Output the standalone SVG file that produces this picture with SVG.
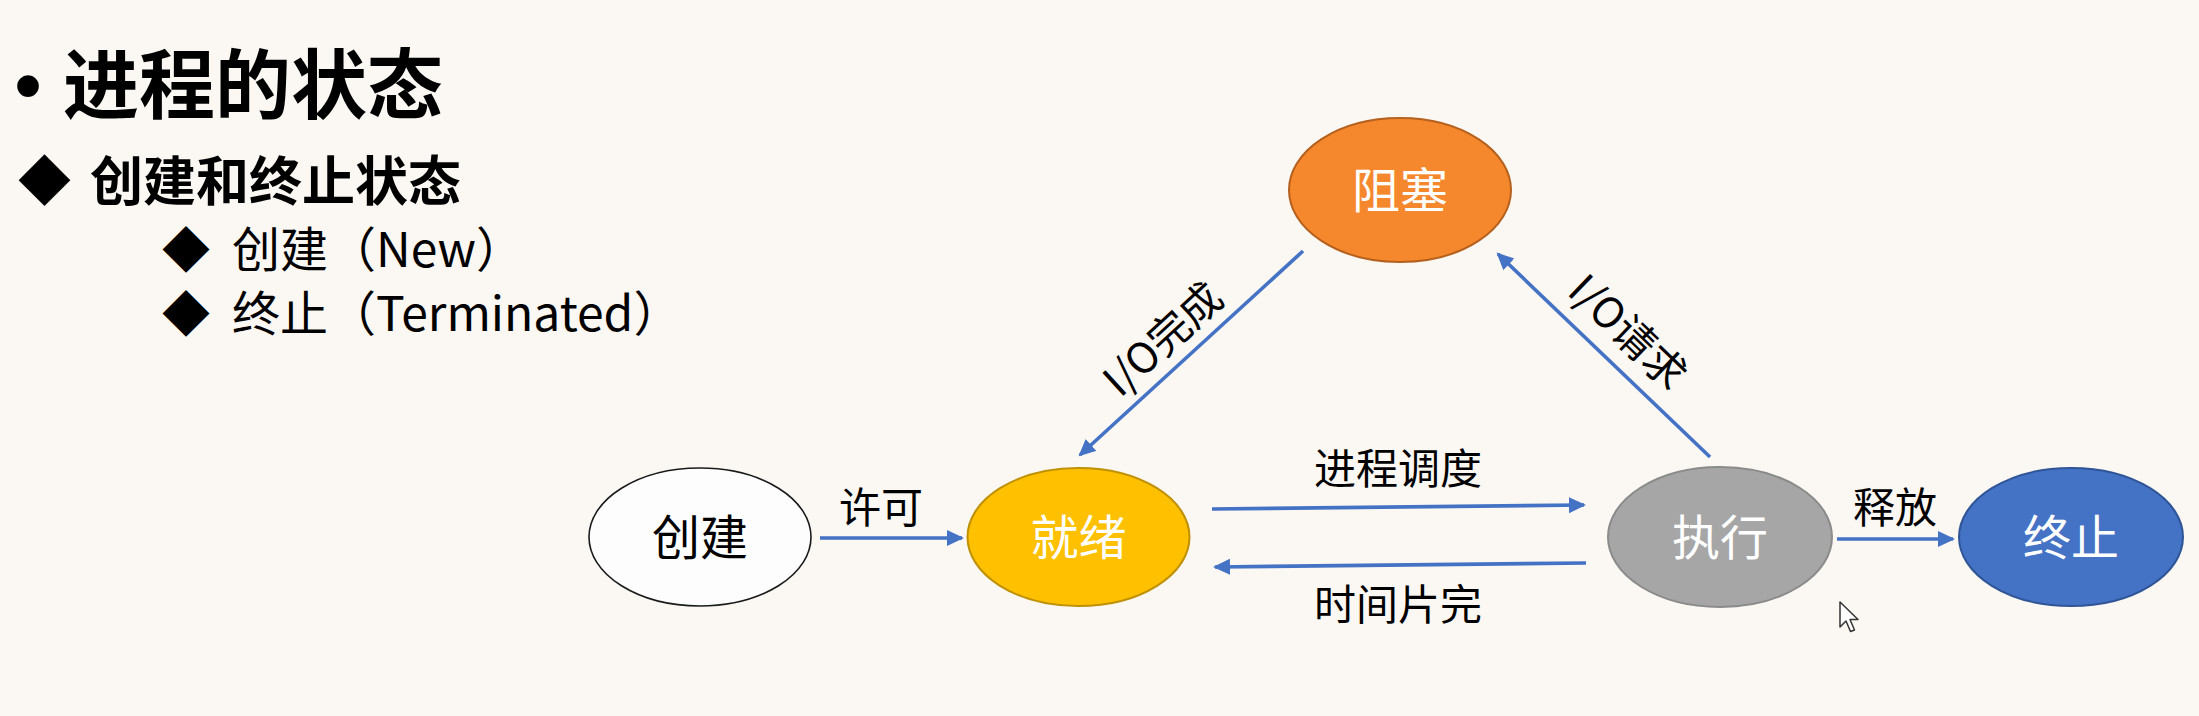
<svg xmlns="http://www.w3.org/2000/svg" width="2199" height="716" viewBox="0 0 2199 716">
  <style>
    text { font-family: "Noto Sans CJK SC", "Liberation Sans", sans-serif; }
    .title { font-size: 76px; font-weight: bold; fill: #000; }
    .bullet { font-family: "Liberation Sans", sans-serif; font-size: 80px; fill: #000; }
    .sub { font-size: 53px; font-weight: bold; fill: #000; }
    .item { font-size: 48px; fill: #000; }
    .node { font-size: 48px; text-anchor: middle; }
    .lbl { font-size: 42px; fill: #000; text-anchor: middle; }
    .edge { stroke: #4472C4; stroke-width: 3.6; fill: none; marker-end: url(#arr); }
  </style>
  <defs>
    <marker id="arr" markerUnits="userSpaceOnUse" markerWidth="18" markerHeight="18" refX="15" refY="8" orient="auto">
      <path d="M0,0 L17,8 L0,16 z" fill="#4472C4"/>
    </marker>
  </defs>
  <rect width="2199" height="716" fill="#FBF7F3"/>

  <g id="heading">
    <text class="bullet" x="14" y="113">•</text>
    <text class="title" x="63" y="113">进程的状态</text>
    <text class="sub" x="18" y="201">◆</text>
    <text class="sub" x="90" y="201">创建和终止状态</text>
    <text class="item" x="162" y="267">◆</text>
    <text class="item" x="232" y="267">创建（New）</text>
    <text class="item" x="162" y="331">◆</text>
    <text class="item" x="232" y="331">终止（Terminated）</text>
  </g>

  <g id="connectors">
    <line class="edge" x1="820" y1="538" x2="962" y2="538"/>
    <line class="edge" x1="1303" y1="251" x2="1080" y2="455"/>
    <line class="edge" x1="1212" y1="509" x2="1584" y2="505"/>
    <line class="edge" x1="1586" y1="563" x2="1215" y2="567"/>
    <line class="edge" x1="1710" y1="457" x2="1498" y2="254"/>
    <line class="edge" x1="1837" y1="539" x2="1953" y2="539"/>
    <text class="lbl" x="881" y="523">许可</text>
    <text class="lbl" x="0" y="15" transform="translate(1163,339) rotate(-42.6)">I/O完成</text>
    <text class="lbl" x="1398" y="484">进程调度</text>
    <text class="lbl" x="1398" y="620">时间片完</text>
    <text class="lbl" x="0" y="15" transform="translate(1628,332) rotate(43.8)">I/O请求</text>
    <text class="lbl" x="1895" y="523">释放</text>
  </g>

  <g id="node-create">
    <ellipse cx="700" cy="537" rx="111" ry="69" fill="#FDFDFD" stroke="#1a1a1a" stroke-width="1.6"/>
    <text class="node" x="700" y="555" fill="#000">创建</text>
  </g>
  <g id="node-ready">
    <ellipse cx="1078.5" cy="537" rx="111" ry="69" fill="#FFC000" stroke="#BF9000" stroke-width="2"/>
    <text class="node" x="1078.5" y="555" fill="#FFFFFF">就绪</text>
  </g>
  <g id="node-blocked">
    <ellipse cx="1400" cy="190" rx="111" ry="72" fill="#F5872D" stroke="#B5601C" stroke-width="2"/>
    <text class="node" x="1400" y="208" fill="#FFFFFF">阻塞</text>
  </g>
  <g id="node-running">
    <ellipse cx="1720" cy="537" rx="112" ry="70" fill="#A6A6A6" stroke="#8A8A8A" stroke-width="2"/>
    <text class="node" x="1720" y="555" fill="#FFFFFF">执行</text>
  </g>
  <g id="node-terminated">
    <ellipse cx="2071" cy="537" rx="112" ry="69" fill="#4472C4" stroke="#2F5597" stroke-width="2"/>
    <text class="node" x="2071" y="555" fill="#FFFFFF">终止</text>
  </g>

  <g id="cursor">
    <path d="M1840,602 L1840,627 L1846,621 L1850.5,631.5 L1854.5,630 L1850,619.5 L1858,619.5 Z" fill="#FFFFFF" stroke="#333" stroke-width="1.5" stroke-linejoin="round"/>
  </g>
</svg>
